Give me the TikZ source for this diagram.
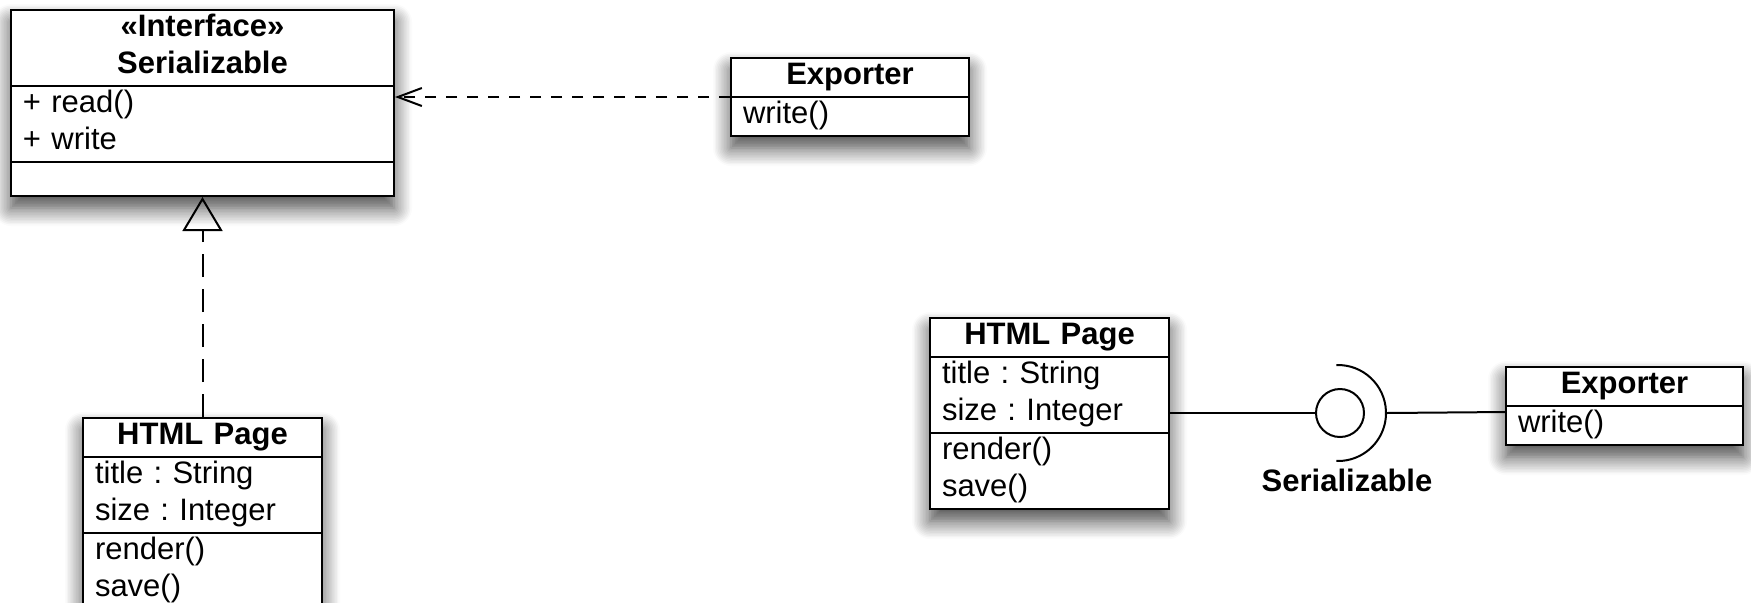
\documentclass[tikz,border=0pt]{standalone}
\usepackage{fontspec}
\setmainfont{Liberation Sans}
\usepackage{tikz}
\usetikzlibrary{arrows.meta,positioning,shapes.multipart,shadows.blur}
\setlength{\parindent}{0pt}
\frenchspacing
\newcommand{\umlfont}{\fontsize{15.5}{18.5}\selectfont}
\tikzset{
  umlclass/.style={
    rectangle split,
    rectangle split parts=3,
    draw=black,
    fill=white,
    line width=1pt,
    inner xsep=6pt,
    inner ysep=0pt,
    font=\umlfont,
    blur shadow={shadow xshift=0pt, shadow yshift=-6pt, shadow blur radius=9pt, shadow blur steps=12, shadow opacity=75}
  },
  umlsmall/.style={umlclass, rectangle split parts=2},
  realize/.style={-{Triangle[open, length=17pt, width=20pt]}, line width=1pt, dash pattern=on 11.5pt off 6pt},
  depend/.style={-{Straight Barb[length=12pt, width=9pt]}, line width=1pt, dash pattern=on 5.5pt off 5pt},
  wire/.style={line width=1pt},
  iflabel/.style={font=\umlfont\bfseries, inner sep=0pt}
}

\begin{document}
\begin{tikzpicture}[x=0.5pt, y=-0.5pt]
  \useasboundingbox (0,0) rectangle (1751,602);
  \clip (0,0) rectangle (1751,602);

  % left: realization
  \node[umlclass, text width=179.5pt, anchor=north west] (iface) at (10,9)
    {\centering\bfseries\strut«Interface»\\\strut Serializable\par
     \nodepart{two}\strut+ read()\\\strut+ write
     \nodepart{three}\rule{0pt}{16pt}};
  \node[umlsmall, text width=107pt, anchor=north west] (exporter) at (730,57)
    {\centering\bfseries\strut Exporter\par
     \nodepart{two}\strut write()};
  \node[umlclass, text width=107.5pt, anchor=north west] (page) at (82,417)
    {\centering\bfseries\strut HTML Page\par
     \nodepart{two}\strut title : String\\\strut size : Integer
     \nodepart{three}\strut render()\\\strut save()};

  \draw[realize] (page.north) -- (iface.south);
  \draw[depend] (exporter.west) -- (exporter.west -| iface.east);

  % right: ball and socket
  \node[umlclass, text width=107.5pt, anchor=north west] (page2) at (929,317)
    {\centering\bfseries\strut HTML Page\par
     \nodepart{two}\strut title : String\\\strut size : Integer
     \nodepart{three}\strut render()\\\strut save()};
  \node[umlsmall, text width=106.5pt, anchor=north west] (exporter2) at (1505,366)
    {\centering\bfseries\strut Exporter\par
     \nodepart{two}\strut write()};

  \node[circle, draw, line width=1pt, minimum size=24pt, inner sep=0pt] (ball) at (1340,413) {};
  \coordinate (sock) at (1338,413);
  \coordinate (socktip) at ([xshift=24pt]sock);
  \draw[wire] ([shift={(92:24pt)}]sock) arc[start angle=92, end angle=-92, radius=24pt];
  \node[iflabel] (lbl) at (1347,480) {Serializable};

  \draw[wire] (page2.east |- ball.west) -- (ball.west);
  \draw[wire] (socktip) -- ([yshift=-3pt]exporter2.west);
\end{tikzpicture}
\end{document}
